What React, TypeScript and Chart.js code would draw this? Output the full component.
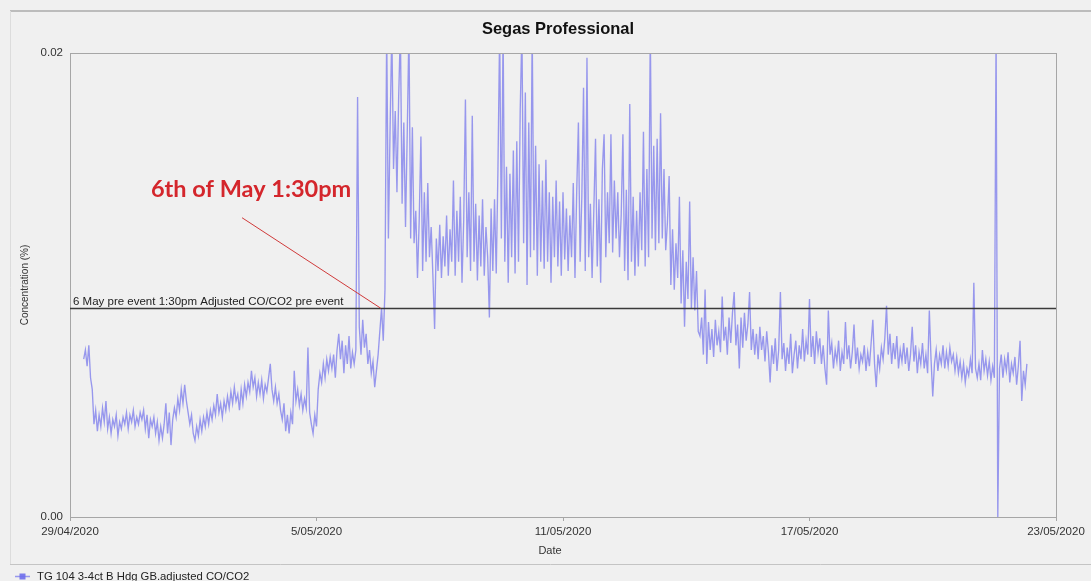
import React, { useEffect, useRef } from "react";
import { Chart, registerables } from "chart.js";

Chart.register(...registerables);

const CHART_TITLE = "Segas Professional";
const SERIES_LABEL = "TG 104 3-4ct B Hdg GB.adjusted CO/CO2";
const X_TITLE = "Date";
const Y_TITLE = "Concentration (%)";

// x axis in hours since 29/04/2020 00:00
const X_TICK_HOURS = [0, 144, 288, 432, 576];
const X_TICK_LABELS = ["29/04/2020", "5/05/2020", "11/05/2020", "17/05/2020", "23/05/2020"];
const Y_TICK_VALUES = [0, 0.02];
const Y_TICK_LABELS = ["0.00", "0.02"];

// logger samples: first at 29/04 08:00, one per hour
const SAMPLE_START_HOUR = 8;
const SAMPLE_STEP_HOURS = 1;

const CONCENTRATION = [
  // from 29/04 08:00
  0.0068, 0.0072, 0.0065, 0.0074, 0.0060, 0.0055, 0.0040, 0.0046, 0.0037, 0.0044, 0.0039, 0.0047,
  0.0041, 0.0050, 0.0038, 0.0043, 0.0036, 0.0042, 0.0039, 0.0044, 0.0035, 0.0041, 0.0038, 0.0043,
  // from 30/04 08:00
  0.0040, 0.0045, 0.0038, 0.0044, 0.0041, 0.0046, 0.0039, 0.0043, 0.0040, 0.0045, 0.0042, 0.0046,
  0.0038, 0.0044, 0.0034, 0.0042, 0.0039, 0.0043, 0.0036, 0.0041, 0.0033, 0.0039, 0.0034, 0.0040,
  // from 01/05 08:00
  0.0049, 0.0036, 0.0045, 0.0031, 0.0042, 0.0047, 0.0043, 0.0051, 0.0046, 0.0055, 0.0049, 0.0057,
  0.0050, 0.0045, 0.0040, 0.0044, 0.0036, 0.0033, 0.0039, 0.0035, 0.0042, 0.0037, 0.0043, 0.0039,
  // from 02/05 08:00
  0.0045, 0.0040, 0.0046, 0.0042, 0.0048, 0.0044, 0.0053, 0.0045, 0.0049, 0.0043, 0.0050, 0.0046,
  0.0052, 0.0047, 0.0054, 0.0049, 0.0056, 0.0050, 0.0053, 0.0046, 0.0055, 0.0049, 0.0057, 0.0052,
  // from 03/05 08:00
  0.0058, 0.0054, 0.0063, 0.0056, 0.0060, 0.0052, 0.0058, 0.0053, 0.0059, 0.0051, 0.0057, 0.0054,
  0.0060, 0.0066, 0.0055, 0.0050, 0.0056, 0.0049, 0.0053, 0.0046, 0.0042, 0.0049, 0.0037, 0.0044,
  // from 04/05 08:00
  0.0036, 0.0045, 0.0040, 0.0063, 0.0050, 0.0055, 0.0048, 0.0053, 0.0046, 0.0051, 0.0047, 0.0073,
  0.0045, 0.0040, 0.0036, 0.0044, 0.0039, 0.0055, 0.0062, 0.0058, 0.0066, 0.0060, 0.0068, 0.0063,
  // from 05/05 08:00
  0.0069, 0.0064, 0.0070, 0.0060, 0.0072, 0.0079, 0.0068, 0.0076, 0.0062, 0.0074, 0.0066, 0.0078,
  0.0064, 0.0071, 0.0066, 0.0072, 0.0181, 0.0082, 0.0070, 0.0085, 0.0073, 0.0079, 0.0066, 0.0072,
  // from 06/05 08:00
  0.0062, 0.0067, 0.0056, 0.0063, 0.0070, 0.0080, 0.0090, 0.0076, 0.0098, 0.0210, 0.0120, 0.0168,
  0.0210, 0.0150, 0.0175, 0.0140, 0.0181, 0.0210, 0.0135, 0.0170, 0.0125, 0.0165, 0.0210, 0.0120,
  // from 07/05 08:00
  0.0168, 0.0118, 0.0132, 0.0103, 0.0128, 0.0164, 0.0106, 0.0140, 0.0110, 0.0144, 0.0112, 0.0125,
  0.0104, 0.0081, 0.0120, 0.0106, 0.0126, 0.0103, 0.0121, 0.0108, 0.0130, 0.0104, 0.0124, 0.0110,
  // from 08/05 08:00
  0.0145, 0.0104, 0.0132, 0.0110, 0.0138, 0.0101, 0.0128, 0.0180, 0.0112, 0.0140, 0.0106, 0.0173,
  0.0110, 0.0135, 0.0102, 0.0130, 0.0108, 0.0137, 0.0104, 0.0125, 0.0112, 0.0086, 0.0133, 0.0106,
  // from 09/05 08:00
  0.0137, 0.0105, 0.0150, 0.0210, 0.0120, 0.0210, 0.0110, 0.0151, 0.0101, 0.0148, 0.0112, 0.0158,
  0.0105, 0.0162, 0.0110, 0.0175, 0.0210, 0.0118, 0.0183, 0.0100, 0.0170, 0.0112, 0.0210, 0.0115,
  // from 10/05 08:00
  0.0160, 0.0104, 0.0152, 0.0110, 0.0145, 0.0107, 0.0154, 0.0110, 0.0140, 0.0101, 0.0138, 0.0112,
  0.0145, 0.0108, 0.0136, 0.0104, 0.0140, 0.0111, 0.0133, 0.0106, 0.0130, 0.0112, 0.0144, 0.0103,
  // from 11/05 08:00
  0.0140, 0.0170, 0.0110, 0.0138, 0.0185, 0.0106, 0.0198, 0.0112, 0.0135, 0.0103, 0.0132, 0.0163,
  0.0108, 0.0137, 0.0101, 0.0150, 0.0165, 0.0112, 0.0140, 0.0118, 0.0165, 0.0114, 0.0145, 0.0120,
  // from 12/05 08:00
  0.0140, 0.0112, 0.0130, 0.0165, 0.0106, 0.0141, 0.0102, 0.0178, 0.0110, 0.0138, 0.0104, 0.0132,
  0.0108, 0.0140, 0.0115, 0.0166, 0.0108, 0.0150, 0.0112, 0.0210, 0.0120, 0.0160, 0.0115, 0.0163,
  // from 13/05 08:00
  0.0118, 0.0174, 0.0120, 0.0150, 0.0115, 0.0127, 0.0147, 0.0100, 0.0124, 0.0098, 0.0118, 0.0103,
  0.0138, 0.0092, 0.0115, 0.0082, 0.0110, 0.0094, 0.0136, 0.0090, 0.0112, 0.0089, 0.0106, 0.0080,
  // from 14/05 08:00
  0.0078, 0.0086, 0.0070, 0.0098, 0.0066, 0.0084, 0.0072, 0.0081, 0.0069, 0.0085, 0.0074, 0.0080,
  0.0071, 0.0095, 0.0076, 0.0082, 0.0070, 0.0086, 0.0075, 0.0088, 0.0097, 0.0074, 0.0083, 0.0064,
  // from 15/05 08:00
  0.0086, 0.0073, 0.0088, 0.0076, 0.0083, 0.0097, 0.0072, 0.0081, 0.0070, 0.0079, 0.0068, 0.0082,
  0.0072, 0.0078, 0.0067, 0.0080, 0.0071, 0.0058, 0.0074, 0.0066, 0.0077, 0.0063, 0.0072, 0.0097,
  // from 16/05 08:00
  0.0068, 0.0075, 0.0063, 0.0073, 0.0066, 0.0079, 0.0062, 0.0070, 0.0076, 0.0064, 0.0074, 0.0068,
  0.0081, 0.0067, 0.0076, 0.0070, 0.0094, 0.0069, 0.0078, 0.0066, 0.0080, 0.0071, 0.0077, 0.0066,
  // from 17/05 08:00
  0.0074, 0.0064, 0.0057, 0.0089, 0.0070, 0.0075, 0.0064, 0.0072, 0.0067, 0.0076, 0.0063, 0.0071,
  0.0066, 0.0084, 0.0068, 0.0074, 0.0064, 0.0071, 0.0083, 0.0066, 0.0073, 0.0064, 0.0070, 0.0067,
  // from 18/05 08:00
  0.0074, 0.0063, 0.0071, 0.0065, 0.0075, 0.0085, 0.0066, 0.0056, 0.0070, 0.0064, 0.0073, 0.0068,
  0.0077, 0.0091, 0.0070, 0.0079, 0.0066, 0.0075, 0.0068, 0.0078, 0.0064, 0.0072, 0.0067, 0.0075,
  // from 19/05 08:00
  0.0066, 0.0073, 0.0063, 0.0070, 0.0082, 0.0067, 0.0074, 0.0062, 0.0071, 0.0066, 0.0075, 0.0064,
  0.0070, 0.0062, 0.0089, 0.0068, 0.0052, 0.0066, 0.0072, 0.0063, 0.0070, 0.0066, 0.0074, 0.0064,
  // from 20/05 08:00
  0.0071, 0.0065, 0.0073, 0.0067, 0.0070, 0.0063, 0.0069, 0.0062, 0.0067, 0.0060, 0.0066, 0.0058,
  0.0064, 0.0061, 0.0068, 0.0062, 0.0101, 0.0064, 0.0060, 0.0066, 0.0059, 0.0072, 0.0063, 0.0068,
  // from 21/05 08:00
  0.0061, 0.0067, 0.0059, 0.0065, 0.0060, 0.0210, 0.0000, 0.0064, 0.0070, 0.0060, 0.0068, 0.0063,
  0.0071, 0.0058, 0.0066, 0.0062, 0.0069, 0.0057, 0.0065, 0.0076, 0.0050, 0.0063, 0.0057, 0.0066,
];

const REFERENCE_LEVEL = 0.009;
const REFERENCE_LABEL = "6 May pre event 1:30pm Adjusted CO/CO2 pre event";

const EVENT_LABEL = "6th of May 1:30pm";
const EVENT_HOUR = 181.5; // 6/05 13:30
const EVENT_LABEL_HOUR = 105.8;
const EVENT_LABEL_VALUE = 0.0141;
const EVENT_LINE_START_HOUR = 100.5;
const EVENT_LINE_START_VALUE = 0.0129;

const LINE_COLOR = "rgba(116,116,236,0.72)";
const FONT = "'Liberation Sans', Arial, sans-serif";

export default function App() {
  const canvasRef = useRef<HTMLCanvasElement | null>(null);

  useEffect(() => {
    const canvas = canvasRef.current;
    if (!canvas) return;

    const points = CONCENTRATION.map((v, i) => ({
      x: SAMPLE_START_HOUR + i * SAMPLE_STEP_HOURS,
      y: v,
    }));

    const overlay = {
      id: "overlay",
      beforeDraw(chart: any) {
        const { ctx, width, height } = chart;
        ctx.save();
        ctx.fillStyle = "#f0f0f0";
        ctx.fillRect(0, 0, width, height);
        ctx.strokeStyle = "#ababab";
        ctx.lineWidth = 1.5;
        ctx.beginPath();
        ctx.moveTo(10, 11);
        ctx.lineTo(width, 11);
        ctx.stroke();
        ctx.strokeStyle = "#dcdcdc";
        ctx.lineWidth = 1;
        ctx.beginPath();
        ctx.moveTo(10.5, 11);
        ctx.lineTo(10.5, 564);
        ctx.stroke();
        ctx.strokeStyle = "#c4c4c4";
        ctx.beginPath();
        ctx.moveTo(10, 564.5);
        ctx.lineTo(width, 564.5);
        ctx.stroke();
        ctx.restore();
      },
      afterDatasetsDraw(chart: any) {
        const { ctx, chartArea } = chart;
        const xs = chart.scales.x;
        const ys = chart.scales.y;
        ctx.save();
        // plot frame
        ctx.strokeStyle = "#a6a6a6";
        ctx.lineWidth = 1;
        ctx.strokeRect(chartArea.left + 0.5, chartArea.top + 0.5, chartArea.right - chartArea.left, chartArea.bottom - chartArea.top);
        // reference level
        const ry = Math.round(ys.getPixelForValue(REFERENCE_LEVEL)) + 0.5;
        ctx.strokeStyle = "#3a3a3a";
        ctx.lineWidth = 1.5;
        ctx.beginPath();
        ctx.moveTo(chartArea.left, ry);
        ctx.lineTo(chartArea.right, ry);
        ctx.stroke();
        ctx.fillStyle = "#222";
        ctx.font = `11.5px ${FONT}`;
        ctx.textAlign = "left";
        ctx.textBaseline = "alphabetic";
        ctx.fillText(REFERENCE_LABEL, chartArea.left + 3, ry - 4);
        // event annotation
        ctx.strokeStyle = "#d03a3a";
        ctx.lineWidth = 1;
        ctx.beginPath();
        ctx.moveTo(xs.getPixelForValue(EVENT_LINE_START_HOUR), ys.getPixelForValue(EVENT_LINE_START_VALUE));
        ctx.lineTo(xs.getPixelForValue(EVENT_HOUR), ys.getPixelForValue(REFERENCE_LEVEL));
        ctx.stroke();
        ctx.fillStyle = "#d4262c";
        ctx.font = `bold 23.5px Lato, 'Open Sans', sans-serif`;
        ctx.textAlign = "center";
        ctx.textBaseline = "middle";
        ctx.fillText(EVENT_LABEL, xs.getPixelForValue(EVENT_LABEL_HOUR), ys.getPixelForValue(EVENT_LABEL_VALUE));
        ctx.restore();
      },
      afterDraw(chart: any) {
        const { ctx, chartArea } = chart;
        ctx.save();
        ctx.fillStyle = "#111";
        ctx.font = `bold 16.5px ${FONT}`;
        ctx.textAlign = "center";
        ctx.textBaseline = "middle";
        ctx.fillText(CHART_TITLE, (chartArea.left + chartArea.right) / 2 - 5, 29);
        // x axis title
        ctx.fillStyle = "#333";
        ctx.font = `11px ${FONT}`;
        ctx.fillText(X_TITLE, 550, 551);
        // legend
        const ly = 576.5;
        ctx.strokeStyle = LINE_COLOR;
        ctx.lineWidth = 1.5;
        ctx.beginPath();
        ctx.moveTo(15, ly);
        ctx.lineTo(30, ly);
        ctx.stroke();
        ctx.fillStyle = "rgba(110,110,235,0.9)";
        ctx.fillRect(19.5, ly - 3, 6, 6);
        ctx.fillStyle = "#222";
        ctx.font = `11.3px ${FONT}`;
        ctx.textAlign = "left";
        ctx.textBaseline = "middle";
        ctx.fillText(SERIES_LABEL, 37, ly);
        ctx.restore();
      },
    };

    const chart = new Chart(canvas, {
      type: "line",
      data: {
        datasets: [
          {
            label: SERIES_LABEL,
            data: points,
            borderColor: LINE_COLOR,
            backgroundColor: LINE_COLOR,
            borderWidth: 1.35,
            pointRadius: 0,
            tension: 0,
            fill: false,
          },
        ],
      },
      options: {
        animation: false,
        responsive: true,
        maintainAspectRatio: false,
        parsing: false as any,
        layout: { padding: { top: 53, right: 35, bottom: 24, left: 0 } },
        plugins: {
          legend: { display: false },
          title: { display: false },
          tooltip: { enabled: false },
        },
        scales: {
          x: {
            type: "linear",
            min: 0,
            max: 576,
            afterFit(scale: any) {
              scale.height = 40;
            },
            afterBuildTicks(scale: any) {
              scale.ticks = X_TICK_HOURS.map((v) => ({ value: v }));
            },
            ticks: {
              autoSkip: false,
              maxRotation: 0,
              padding: 4,
              color: "#333",
              font: { family: FONT, size: 11.5 },
              callback: (v: any) => {
                const idx = X_TICK_HOURS.indexOf(Number(v));
                return idx >= 0 ? X_TICK_LABELS[idx] : "";
              },
            },
            grid: { drawOnChartArea: false, drawTicks: true, tickLength: 4, color: "#a6a6a6" },
            border: { display: true, color: "#a6a6a6" },
            title: { display: false, text: X_TITLE },
          },
          y: {
            type: "linear",
            min: 0,
            max: 0.02,
            afterFit(scale: any) {
              scale.width = 70;
            },
            afterBuildTicks(scale: any) {
              scale.ticks = Y_TICK_VALUES.map((v) => ({ value: v }));
            },
            ticks: {
              padding: 7,
              color: "#333",
              font: { family: FONT, size: 11.5 },
              callback: (v: any) => {
                const idx = Y_TICK_VALUES.indexOf(Number(v));
                return idx >= 0 ? Y_TICK_LABELS[idx] : "";
              },
            },
            grid: { display: false, drawTicks: false },
            border: { display: true, color: "#a6a6a6" },
            title: {
              display: true,
              text: Y_TITLE,
              color: "#333",
              font: { family: FONT, size: 10 },
              padding: { top: 19, bottom: 0 },
            },
          },
        },
      },
      plugins: [overlay],
    });

    return () => chart.destroy();
  }, []);

  return (
    <div
      style={{
        position: "fixed",
        left: 0,
        top: 0,
        width: 1091,
        height: 581,
        background: "#f0f0f0",
      }}
    >
      <canvas ref={canvasRef} />
    </div>
  );
}
